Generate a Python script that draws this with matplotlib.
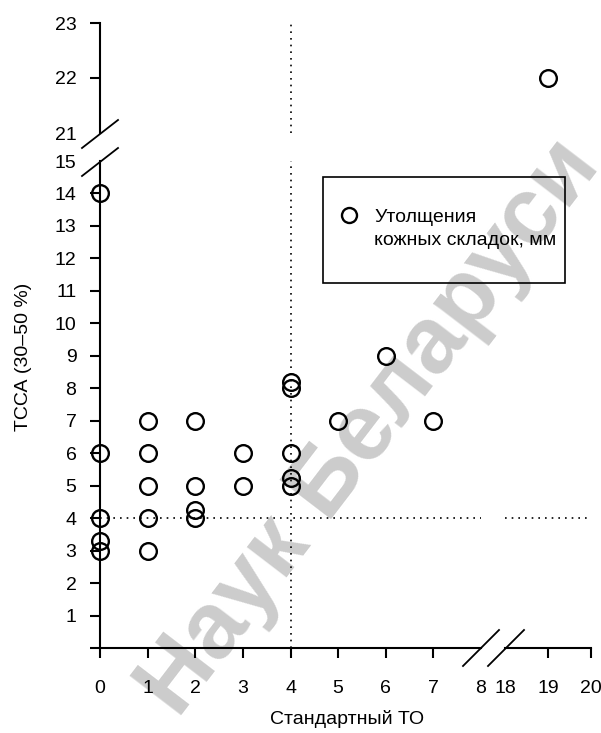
import matplotlib
matplotlib.use('Agg')
import matplotlib.pyplot as plt
from matplotlib.lines import Line2D
from matplotlib.patches import Rectangle

plt.rcParams['font.family'] = ['Liberation Sans', 'DejaVu Sans']

# data: standard TO (x) vs TCCA 30-50 % (y)
x_low = [0, 0, 0, 0, 0, 1, 1, 1, 1, 1, 2, 2, 2, 2, 3, 3, 4, 4, 4, 4, 4, 5, 6, 7]
y_low = [14, 6, 4, 3.3, 3, 7, 6, 5, 4, 3, 7, 5, 4.25, 4, 6, 5, 8.2, 8, 6, 5.25, 5, 7, 9, 7]
x_high = [19]
y_high = [22]

x_ticks_left = [0, 1, 2, 3, 4, 5, 6, 7, 8]
x_ticks_right = [18, 19, 20]
y_ticks_low = list(range(0, 16))
y_ticks_high = [21, 22, 23]
ref_x = 4
ref_y = 4

legend_label = ['Утолщения', 'кожных складок, мм']
xlabel = 'Стандартный ТО'
ylabel = 'ТССА (30–50 %)'

W, H = 601, 733
fig = plt.figure(figsize=(W / 100, H / 100), dpi=100)

def px(x0, y0, x1, y1):
    # pixel box (from top-left) -> figure fraction rect
    return [x0 / W, 1 - y1 / H, (x1 - x0) / W, (y1 - y0) / H]

ax_ll = fig.add_axes(px(100, 161, 481, 648))
ax_lr = fig.add_axes(px(505, 161, 591, 648))
ax_ul = fig.add_axes(px(100, 23, 481, 133))
ax_ur = fig.add_axes(px(505, 23, 591, 133))

for ax in (ax_ll, ax_lr, ax_ul, ax_ur):
    ax.set_facecolor('none')
    for s in ax.spines.values():
        s.set_visible(False)
        s.set_linewidth(1.5)
    ax.tick_params(length=7, width=1.5, labelsize=14, color='black')

for ax in (ax_ll, ax_ul):
    ax.set_xlim(0, 8)
for ax in (ax_lr, ax_ur):
    ax.set_xlim(18, 20)
for ax in (ax_ll, ax_lr):
    ax.set_ylim(0, 15)
for ax in (ax_ul, ax_ur):
    ax.set_ylim(21, 23)

ax_ll.spines['left'].set_visible(True)
ax_ll.spines['bottom'].set_visible(True)
ax_lr.spines['bottom'].set_visible(True)
ax_ul.spines['left'].set_visible(True)

# ticks
ax_ll.set_xticks(x_ticks_left)
ax_ll.set_xticklabels([str(v) for v in x_ticks_left])
ax_ll.set_yticks(y_ticks_low)
ax_ll.set_yticklabels([''] + [str(v) for v in y_ticks_low[1:]])
ax_lr.set_xticks(x_ticks_right)
ax_lr.set_xticklabels([str(v) for v in x_ticks_right])
ax_lr.set_yticks([])
ax_ul.set_yticks(y_ticks_high)
ax_ul.set_yticklabels([str(v) for v in y_ticks_high])
ax_ul.set_xticks([])
ax_ur.set_xticks([])
ax_ur.set_yticks([])

for ax in (ax_ll, ax_lr):
    ax.tick_params(axis='x', pad=16)
for ax in (ax_ll, ax_ul):
    ax.tick_params(axis='y', pad=10)

# no tick marks where the axes break
ax_ll.xaxis.get_major_ticks()[-1].tick1line.set_visible(False)
ax_lr.xaxis.get_major_ticks()[0].tick1line.set_visible(False)
ax_ll.yaxis.get_major_ticks()[-1].tick1line.set_visible(False)
ax_ul.yaxis.get_major_ticks()[0].tick1line.set_visible(False)

# reference dotted lines
dot = dict(color='black', linewidth=1.2, linestyle=(0, (1, 3.0)), zorder=1)
ax_ll.axvline(ref_x, **dot)
ax_ul.axvline(ref_x, **dot)
ax_ll.axhline(ref_y, **dot)
ax_lr.axhline(ref_y, **dot)

mk = dict(marker='o', linestyle='none', markersize=12, markerfacecolor='none',
          markeredgecolor='black', markeredgewidth=1.7, clip_on=False, zorder=3)
ax_ll.plot(x_low, y_low, **mk)
ax_ur.plot(x_high, y_high, **mk)

# break marks
def slash(xc, yc, dx, dy):
    fig.add_artist(Line2D([(xc - dx) / W, (xc + dx) / W],
                          [1 - (yc + dy) / H, 1 - (yc - dy) / H],
                          transform=fig.transFigure, color='black', linewidth=1.3))

slash(100, 134, 18, 14)
slash(100, 162, 18, 14)
slash(481, 648, 18, 18)
slash(506, 648, 18, 18)

# legend: entries without frame, box drawn separately
handles = [Line2D([], [], **{k: v for k, v in mk.items() if k != 'clip_on'}),
           Line2D([], [], linestyle='none')]
leg = ax_ll.legend(handles, legend_label, loc='upper left',
                   bbox_to_anchor=(339 / W, 1 - 208 / H), bbox_transform=fig.transFigure,
                   borderaxespad=0, borderpad=0, frameon=False, fontsize=14,
                   handlelength=1.0, handletextpad=0.8, labelspacing=0.3,
                   markerscale=0.9)
fig.add_artist(Rectangle((323 / W, 1 - 283 / H), 242 / W, 106 / H,
                         transform=fig.transFigure, fill=False,
                         edgecolor='black', linewidth=1.2))

fig.text(347 / W, 1 - 719 / H, xlabel, ha='center', va='center', fontsize=14)
fig.text(24 / W, 1 - 357 / H, ylabel, ha='center', va='center', rotation=90, fontsize=14)

# watermark
fig.text(370 / W, 1 - 428 / H, 'Наук Беларуси', rotation=52.6, rotation_mode='anchor',
         ha='center', va='center', fontsize=68, fontweight='bold',
         color='#cccccc', zorder=-1)

plt.savefig('out.png', dpi=100)
